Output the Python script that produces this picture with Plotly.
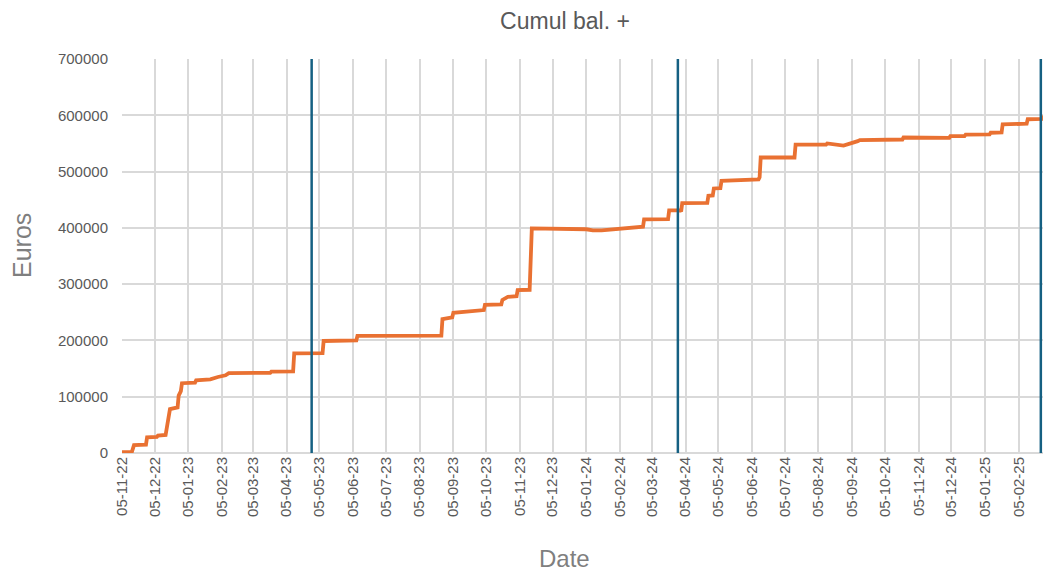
import plotly.graph_objects as go

# Cumulative balance
dates = [
    "2022-11-05", "2022-11-14", "2022-11-16", "2022-11-27", "2022-11-28",
    "2022-12-07", "2022-12-08", "2022-12-15", "2022-12-19", "2022-12-26",
    "2022-12-27", "2022-12-29", "2022-12-30", "2023-01-11", "2023-01-12",
    "2023-01-25", "2023-02-01", "2023-02-08", "2023-02-11", "2023-03-21",
    "2023-03-22", "2023-04-11", "2023-04-12", "2023-05-08", "2023-05-09",
    "2023-06-08", "2023-06-09", "2023-08-25", "2023-08-26", "2023-09-04",
    "2023-09-05", "2023-10-03", "2023-10-04", "2023-10-19", "2023-10-20",
    "2023-10-25", "2023-11-02", "2023-11-03", "2023-11-14", "2023-11-15",
    "2023-11-16", "2024-01-05", "2024-01-11", "2024-01-19", "2024-02-26",
    "2024-02-27", "2024-03-20", "2024-03-21", "2024-03-31", "2024-04-01",
    "2024-04-02", "2024-04-25", "2024-04-26", "2024-04-30", "2024-05-01",
    "2024-05-07", "2024-05-08", "2024-06-11", "2024-06-12", "2024-06-13",
    "2024-07-14", "2024-07-15", "2024-08-12", "2024-08-13", "2024-08-28",
    "2024-09-10", "2024-09-12", "2024-10-21", "2024-10-22", "2024-12-03",
    "2024-12-04", "2024-12-17", "2024-12-18", "2025-01-09", "2025-01-10",
    "2025-01-20", "2025-01-21", "2025-02-12", "2025-02-13", "2025-02-27",
    "2025-02-28", "2025-03-02", "2025-03-07",
]
values = [
    1500, 1500, 14000, 15000, 28000,
    28500, 31000, 32000, 78000, 81000,
    102000, 110000, 124000, 125000, 129000,
    131000, 135000, 138000, 142000, 142500,
    144500, 145000, 177000, 177500, 199000,
    200000, 208000, 208500, 238000, 241000,
    249000, 254000, 263000, 264000, 272000,
    277500, 278500, 289500, 290000, 360000,
    399000, 397500, 395500, 395500, 402000,
    415000, 415500, 431000, 431000, 429000,
    444000, 444500, 457000, 457500, 470000,
    470500, 483500, 486000, 490000, 525000,
    525000, 548000, 548000, 550000, 546000,
    554000, 556000, 557000, 560500, 560000,
    563000, 563000, 565500, 566000, 569000,
    569500, 584000, 585000, 593000, 593500,
    598000, 602000, 602000,
]

# Vertical marker lines
marker_dates = ["2023-04-28", "2024-03-29", "2025-02-25"]
marker_span = [0, 700000]

# X tick positions and labels
tick_dates = [
    "2022-11-05", "2022-12-05", "2023-01-05", "2023-02-05", "2023-03-05",
    "2023-04-05", "2023-05-05", "2023-06-05", "2023-07-05", "2023-08-05",
    "2023-09-05", "2023-10-05", "2023-11-05", "2023-12-05", "2024-01-05",
    "2024-02-05", "2024-03-05", "2024-04-05", "2024-05-05", "2024-06-05",
    "2024-07-05", "2024-08-05", "2024-09-05", "2024-10-05", "2024-11-05",
    "2024-12-05", "2025-01-05", "2025-02-05", "2025-03-05",
]
tick_labels = [
    "05-11-22", "05-12-22", "05-01-23", "05-02-23", "05-03-23",
    "05-04-23", "05-05-23", "05-06-23", "05-07-23", "05-08-23",
    "05-09-23", "05-10-23", "05-11-23", "05-12-23", "05-01-24",
    "05-02-24", "05-03-24", "05-04-24", "05-05-24", "05-06-24",
    "05-07-24", "05-08-24", "05-09-24", "05-10-24", "05-11-24",
    "05-12-24", "05-01-25", "05-02-25", "05-03-25",
]
y_ticks = [0, 100000, 200000, 300000, 400000, 500000, 600000, 700000]

FONT = "Liberation Sans, Arial, sans-serif"
GRID = "#D9D9D9"
OFF = 8  # page body margin

W, H = 1051 - OFF, 571 - OFF

fig = go.Figure()
fig.add_trace(go.Scatter(
    x=dates, y=values, mode="lines",
    line=dict(color="#E97132", width=3.8),
    showlegend=False, hoverinfo="x+y",
))
for d in marker_dates:
    fig.add_trace(go.Scatter(
        x=[d, d], y=marker_span, mode="lines",
        line=dict(color="#156082", width=2.5),
        showlegend=False, hoverinfo="x",
    ))

fig.update_layout(
    width=W, height=H,
    paper_bgcolor="white", plot_bgcolor="white",
    margin=dict(l=122 - OFF, r=0, t=59 - OFF, b=H - (453 - OFF)),
    font=dict(family=FONT, color="#595959", size=15),
    title=dict(
        text="Cumul bal. +", xref="container", yref="container",
        x=(565 - OFF) / W, y=1 - (21 - OFF) / H, xanchor="center", yanchor="middle",
        font=dict(family=FONT, size=23, color="#595959"),
    ),
    xaxis=dict(
        type="date",
        range=["2022-11-05", "2025-03-06 08:00"],
        tickmode="array", tickvals=tick_dates, ticktext=tick_labels,
        tickangle=-90, showgrid=True, gridcolor=GRID, gridwidth=1.5,
        zeroline=False, showline=False, ticks="",
        ticklabeloverflow="allow", automargin=False,
        tickfont=dict(family=FONT, size=15, color="#595959"),
    ),
    yaxis=dict(
        range=[0, 700000], tickmode="array", tickvals=y_ticks,
        tickformat="d", showgrid=True, gridcolor=GRID, gridwidth=1.5,
        zeroline=True, zerolinecolor=GRID, zerolinewidth=1.5,
        showline=False, ticks="", ticklabelstandoff=13, automargin=False,
        tickfont=dict(family=FONT, size=15, color="#595959"),
    ),
    annotations=[
        dict(text="Euros", xref="paper", yref="paper",
             x=(22 - 122) / 929, y=(453 - 246) / 394, textangle=-90,
             showarrow=False, xanchor="center", yanchor="middle",
             font=dict(family=FONT, size=25, color="#7F7F7F")),
        dict(text="Date", xref="paper", yref="paper",
             x=(564 - 122) / 929, y=(453 - 558) / 394,
             showarrow=False, xanchor="center", yanchor="middle",
             font=dict(family=FONT, size=24, color="#7F7F7F")),
    ],
)

fig.write_html("out.html")
